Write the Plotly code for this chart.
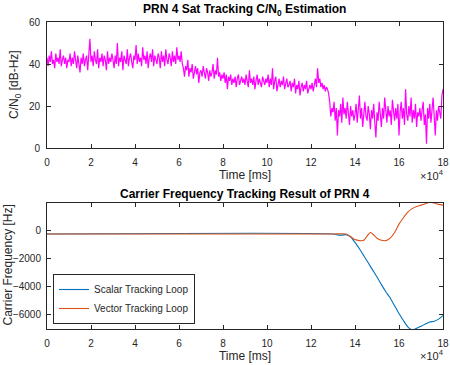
import plotly.graph_objects as go

# ---------------- data ----------------
cn0_step_ms = 500
cn0_values = [
    43, 39, 44, 41, 46, 40, 42, 38, 45, 41, 43, 40, 47, 39, 42, 44, 40, 43, 38, 42,
    41, 45, 39, 43, 40, 46, 42, 38, 44, 41, 36, 43, 40, 45, 39, 42, 44, 37, 43, 52,
    41, 44, 39, 46, 42, 40, 47, 38, 43, 41, 45, 39, 44, 42, 37, 46, 40, 43, 41, 45,
    42, 38, 44, 40, 50, 39, 43, 41, 46, 37, 44, 42, 40, 47, 39, 43, 45, 41, 38, 44,
    42, 49, 40, 45, 41, 43, 39, 48, 42, 44, 40, 46, 38, 43, 45, 41, 47, 39, 44, 42,
    40, 45, 43, 38, 46, 41, 44, 39, 47, 42, 40, 45, 43, 39, 46, 41, 44, 40, 48, 42,
    44, 41, 46, 40, 38, 34, 39, 37, 42, 34, 38, 36, 40, 33, 37, 39, 35, 38, 31, 36,
    37, 34, 39, 35, 33, 38, 36, 32, 37, 34, 36, 40, 33, 37, 35, 43, 34, 36, 32, 35,
    33, 36, 31, 35, 28, 34, 32, 35, 30, 33, 31, 34, 29, 33, 35, 30, 32, 34, 31, 33,
    30, 35, 32, 29, 37, 31, 33, 30, 34, 28, 32, 35, 30, 33, 31, 29, 34, 32, 30, 33,
    31, 35, 29, 33, 30, 38, 28, 32, 34, 27, 31, 33, 29, 32, 30, 34, 28, 31, 33, 29,
    30, 32, 27, 31, 29, 33, 26, 30, 28, 32, 25, 29, 31, 27, 30, 28, 32, 26, 29, 30,
    28, 31, 27, 30, 33, 29, 38, 31, 33, 29, 31, 28, 30, 27, 29, 28, 26, 22, 15, 19,
    17, 22, 13, 19, 6, 18, 15, 21, 12, 24, 16, 19, 14, 22, 17, 11, 20, 15, 18, 13,
    16, 21, 12, 18, 25, 14, 19, 10, 17, 22, 15, 13, 20, 16, 9, 18, 14, 21, 12, 5,
    17, 13, 22, 15, 10, 19, 14, 24, 16, 12, 20, 15, 18, 11, 23, 16, 13, 19, 14, 21,
    6, 17, 22, 14, 19, 11, 28, 16, 13, 20, 15, 24, 12, 18, 14, 21, 10, 17, 15, 19,
    13, 18, 22, 11, 16, 2, 19, 14, 21, 12, 17, 24, 15, 6, 18, 13, 20, 16, 14, 25, 28,
]
cn0_time_ms = [i * cn0_step_ms for i in range(len(cn0_values))]

scalar_time_ms = [0, 130000, 132000, 134000, 136000, 138000, 140000, 142000, 144000,
                  146000, 148000, 150000, 152000, 154000, 156000, 158000, 160000,
                  162000, 164000, 166000, 168000, 170000, 172000, 174000, 176000,
                  178000, 180000]
scalar_freq_hz = [-250, -250, -320, -330, -300, -450, -850, -1300, -1800,
                  -2300, -2800, -3300, -3850, -4350, -4800, -5350, -5900,
                  -6400, -6850, -7050, -6950, -6800, -6650, -6500, -6450,
                  -6300, -6050]

vector_time_ms = [0, 130000, 136000, 138000, 140000, 142000, 144000, 146000, 147000,
                  148000, 150000, 152000, 154000, 156000, 158000, 160000, 162000,
                  164000, 166000, 168000, 170000, 172000, 174000, 176000, 178000,
                  180000]
vector_freq_hz = [-250, -250, -250, -450, -650, -720, -700, -300, -150,
                  -250, -550, -700, -720, -550, -150, 450, 900,
                  1300, 1550, 1700, 1800, 1900, 2000, 1950, 1850,
                  1800]

x_ticks = [0, 20000, 40000, 60000, 80000, 100000, 120000, 140000, 160000, 180000]
x_tick_labels = ["0", "2", "4", "6", "8", "10", "12", "14", "16", "18"]
cn0_ticks = [0, 20, 40, 60]
freq_ticks = [-6000, -4000, -2000, 0]

# ---------------- figure ----------------
W, H = 450, 365
def px_x(p):
    return p / W
def px_y(p):
    return 1 - p / H

axis_color = "#262626"
font_family = "Liberation Sans, Arial, Helvetica, sans-serif"

fig = go.Figure()
fig.add_trace(go.Scatter(x=cn0_time_ms, y=cn0_values, mode="lines",
                         line=dict(color="#FF00FF", width=1.2),
                         showlegend=False, xaxis="x", yaxis="y"))
fig.add_trace(go.Scatter(x=scalar_time_ms, y=scalar_freq_hz, mode="lines",
                         line=dict(color="#0072BD", width=1.1, shape="spline", smoothing=0.6),
                         name="Scalar Tracking Loop", xaxis="x2", yaxis="y2"))
fig.add_trace(go.Scatter(x=vector_time_ms, y=vector_freq_hz, mode="lines",
                         line=dict(color="#D95319", width=1.1, shape="spline", smoothing=0.6),
                         name="Vector Tracking Loop", xaxis="x2", yaxis="y2"))

common_axis = dict(showline=True, linecolor=axis_color, linewidth=1, mirror="ticks",
                   ticks="inside", ticklen=4, tickcolor=axis_color, showgrid=False,
                   zeroline=False, automargin=False,
                   tickfont=dict(size=10, color=axis_color, family=font_family))

xdom = [px_x(47), px_x(443)]
fig.update_layout(
    width=W, height=H,
    margin=dict(l=0, r=0, t=0, b=0, autoexpand=False),
    paper_bgcolor="white", plot_bgcolor="white",
    font=dict(family=font_family, color=axis_color, size=11),
    xaxis=dict(domain=xdom, anchor="y", range=[0, 180000], tickvals=x_ticks,
               ticktext=x_tick_labels, ticklabelstandoff=5,
               title=dict(text="Time [ms]", font=dict(size=12), standoff=3), **common_axis),
    yaxis=dict(domain=[px_y(148), px_y(22)], anchor="x", range=[0, 60], tickvals=cn0_ticks,
               ticklabelstandoff=4, **common_axis),
    xaxis2=dict(domain=xdom, anchor="y2", range=[0, 180000], tickvals=x_ticks,
                ticktext=x_tick_labels, ticklabelstandoff=5,
                title=dict(text="Time [ms]", font=dict(size=12), standoff=3), **common_axis),
    yaxis2=dict(domain=[px_y(329), px_y(203)], anchor="x2", range=[-7000, 1950],
                tickvals=freq_ticks, ticklabelstandoff=3, **common_axis),
    legend=dict(x=px_x(53), y=px_y(299), xanchor="left", yanchor="middle",
                bgcolor="white", bordercolor=axis_color, borderwidth=1,
                font=dict(size=10, color=axis_color), itemwidth=30,
                tracegroupgap=0),
    annotations=[
        dict(text="<b>PRN 4 Sat Tracking C/N<sub>0</sub> Estimation</b>", x=px_x(245),
             y=px_y(0), xref="paper", yref="paper", xanchor="center", yanchor="top",
             showarrow=False, font=dict(size=12, color="black")),
        dict(text="<b>Carrier Frequency Tracking Result of PRN 4</b>", x=px_x(245),
             y=px_y(185), xref="paper", yref="paper", xanchor="center", yanchor="top",
             showarrow=False, font=dict(size=12, color="black")),
        dict(text="C/N<sub>0</sub> [dB-Hz]", x=px_x(15), y=px_y(85), xref="paper",
             yref="paper", xanchor="center", yanchor="middle", textangle=-90,
             showarrow=False, font=dict(size=12, color=axis_color)),
        dict(text="Carrier Frequency [Hz]", x=px_x(7.5), y=px_y(265), xref="paper",
             yref="paper", xanchor="center", yanchor="middle", textangle=-90,
             showarrow=False, font=dict(size=12, color=axis_color)),
        dict(text="×10<sup>4</sup>", x=px_x(446), y=px_y(184), xref="paper", yref="paper",
             xanchor="right", yanchor="bottom", showarrow=False,
             font=dict(size=11, color=axis_color)),
        dict(text="×10<sup>4</sup>", x=px_x(446), y=px_y(364), xref="paper", yref="paper",
             xanchor="right", yanchor="bottom", showarrow=False,
             font=dict(size=11, color=axis_color)),
    ],
)

fig.write_html("out.html", config={"displayModeBar": False},
               post_script="document.body.style.margin='0';document.body.style.padding='0';")
